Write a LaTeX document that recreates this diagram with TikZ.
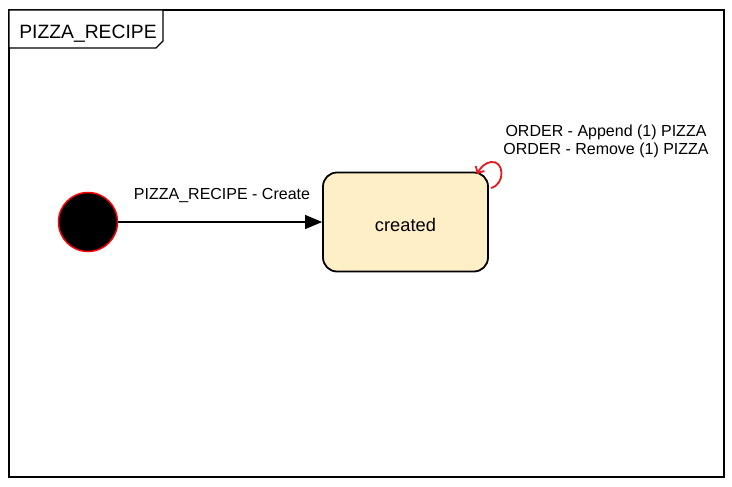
\documentclass[tikz,border=0pt]{standalone}
\usepackage{fontspec}
\setmainfont{Liberation Sans}
\usetikzlibrary{arrows.meta}
\definecolor{statefill}{HTML}{FEEFC6}
\definecolor{loopred}{HTML}{E8191C}
\tikzset{
  lbl/.style={font=\fontsize{16}{18}\selectfont, inner sep=0pt},
  statebox/.style={draw=black, line width=1.8pt, fill=statefill, rounded corners=14pt, font=\fontsize{18.3}{20}\selectfont},
  initstate/.style={circle, draw=red, fill=black, line width=1.5pt, inner sep=0pt},
  trans/.style={draw=black, line width=1.4pt, -{Triangle[length=17pt,width=14pt]}},
  selfloop/.style={draw=loopred, line width=1.8pt, -{Straight Barb[length=5pt,width=10pt]}},
}
\begin{document}
\begin{tikzpicture}[x=1pt,y=-1pt]
\useasboundingbox (0,0) rectangle (732,487);
% frame
\draw[line width=1.5pt] (9,10) rectangle (724,477);
\draw[line width=1.3pt, fill=white] (9,10) -- (163,10) -- (163,41) -- (156,48) -- (9,48) -- cycle;
\node[font=\fontsize{19.3}{21}\selectfont, inner sep=0pt] (title) at (88,34) {PIZZA\_RECIPE};
% initial
\node[initstate, minimum size=59pt] (init) at (88,222) {};
% state
\node[statebox, minimum width=165pt, minimum height=99pt] (created) at (405.5,222) {};
\node[font=\fontsize{18.3}{20}\selectfont, inner sep=0pt] (ctext) at (405.5,224.5) {created};
% transition
\draw[trans] (init.east) -- (created.west);
\node[lbl] (tlabel) at (222,195.5) {PIZZA\_RECIPE - Create};
% self loop
\coordinate (ls) at (491,188);
\draw[selfloop] (ls) .. controls (506,184) and (504,160) .. (491,162) .. controls (485,163) and (481,167) .. (477,174);
\node[lbl] (l1) at (606,132.5) {ORDER - Append (1) PIZZA};
\node[lbl] (l2) at (606,150.5) {ORDER - Remove (1) PIZZA};
\end{tikzpicture}
\end{document}
